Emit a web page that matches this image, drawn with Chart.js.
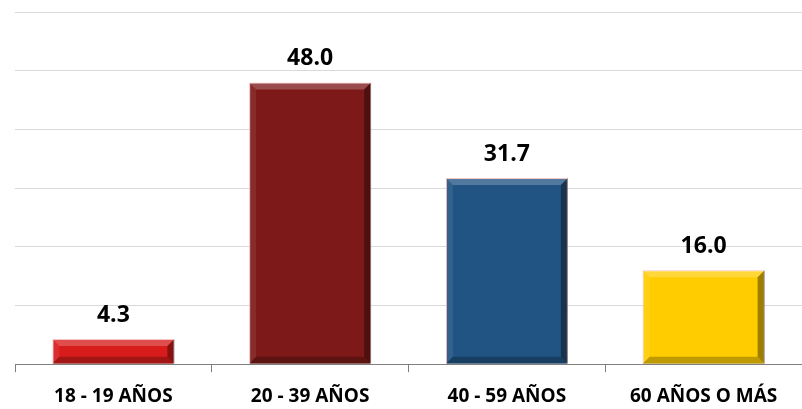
<!DOCTYPE html>
<html>
<head>
<meta charset="utf-8">
<script src="https://cdn.jsdelivr.net/npm/chart.js@4.4.1/dist/chart.umd.min.js"></script>
<style>
  html, body { margin: 0; padding: 0; background: #ffffff; }
  #wrap { width: 802px; height: 409px; position: relative; }
</style>
</head>
<body>
<div id="wrap"><canvas id="chart_edades"></canvas></div>
<script>
const categories = ['18 - 19 AÑOS', '20 - 39 AÑOS', '40 - 59 AÑOS', '60 AÑOS O MÁS'];
const values = [4.3, 48.0, 31.7, 16.0];
const barColors = ['#d81c1c', '#7d1a19', '#215483', '#ffcc00'];
const labelFont = '"Open Sans", "DejaVu Sans", sans-serif';

// little bevel + value label on top of every bar
const bevelAndLabels = {
  id: 'bevelAndLabels',
  afterDatasetsDraw(chart) {
    const ctx = chart.ctx;
    const meta = chart.getDatasetMeta(0);
    meta.data.forEach((bar, i) => {
      const left = bar.x - bar.width / 2;
      const right = bar.x + bar.width / 2;
      const top = bar.y;
      const bottom = bar.base;
      const b = Math.min(7, (bottom - top) / 3);
      ctx.save();
      // top light face
      ctx.fillStyle = 'rgba(255,255,255,0.22)';
      ctx.beginPath();
      ctx.moveTo(left, top); ctx.lineTo(right, top);
      ctx.lineTo(right - b, top + b); ctx.lineTo(left + b, top + b);
      ctx.closePath(); ctx.fill();
      // left face
      ctx.fillStyle = 'rgba(255,255,255,0.08)';
      ctx.beginPath();
      ctx.moveTo(left, top); ctx.lineTo(left + b, top + b);
      ctx.lineTo(left + b, bottom - b); ctx.lineTo(left, bottom);
      ctx.closePath(); ctx.fill();
      // right dark face
      ctx.fillStyle = 'rgba(0,0,0,0.38)';
      ctx.beginPath();
      ctx.moveTo(right, top); ctx.lineTo(right - b, top + b);
      ctx.lineTo(right - b, bottom - b); ctx.lineTo(right, bottom);
      ctx.closePath(); ctx.fill();
      // bottom dark face
      ctx.fillStyle = 'rgba(0,0,0,0.25)';
      ctx.beginPath();
      ctx.moveTo(left, bottom); ctx.lineTo(left + b, bottom - b);
      ctx.lineTo(right - b, bottom - b); ctx.lineTo(right, bottom);
      ctx.closePath(); ctx.fill();
      // value label
      ctx.fillStyle = '#000000';
      ctx.font = 'bold 23px ' + labelFont;
      ctx.textAlign = 'center';
      ctx.textBaseline = 'bottom';
      ctx.fillText(values[i].toFixed(1), bar.x, top - 12);
      ctx.restore();
    });
  }
};

new Chart(document.getElementById('chart_edades'), {
  type: 'bar',
  data: {
    labels: categories,
    datasets: [{
      data: values,
      backgroundColor: barColors,
      borderColor: '#f4b6b6',
      borderWidth: 1,
      categoryPercentage: 1.0,
      barPercentage: 0.62
    }]
  },
  options: {
    responsive: true,
    maintainAspectRatio: false,
    animation: false,
    layout: { padding: { left: 15, right: 0, top: 12, bottom: -12 } },
    scales: {
      y: {
        min: 0,
        max: 60,
        ticks: { display: false, stepSize: 10 },
        grid: { color: '#d9d9d9', drawTicks: false },
        border: { display: false }
      },
      x: {
        offset: true,
        grid: {
          offset: true,
          drawOnChartArea: false,
          drawTicks: true,
          tickLength: 8,
          color: '#7f7f7f'
        },
        border: { color: '#7f7f7f' },
        ticks: {
          color: '#000000',
          padding: 13,
          font: { family: labelFont, size: 19, weight: 'bold' }
        }
      }
    },
    plugins: {
      legend: { display: false },
      tooltip: { enabled: false }
    }
  },
  plugins: [bevelAndLabels]
});
</script>
</body>
</html>
